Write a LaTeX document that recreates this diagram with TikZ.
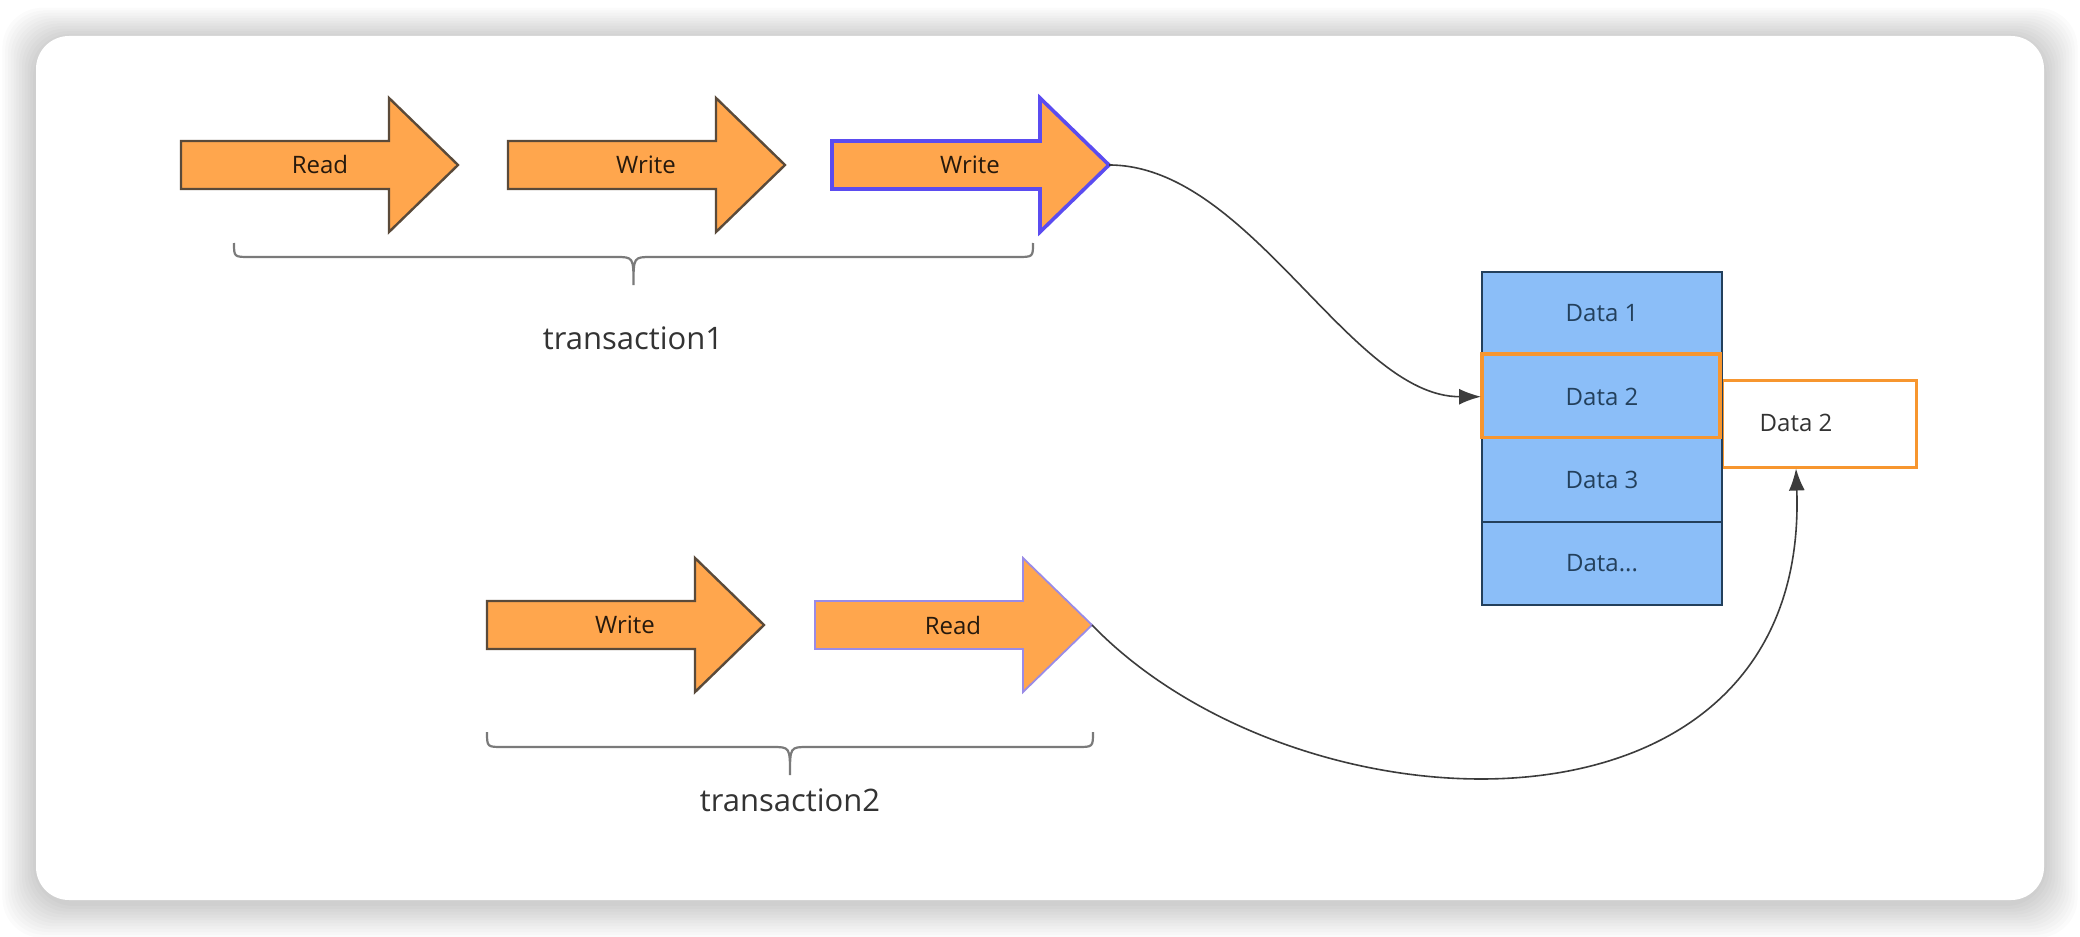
\documentclass[tikz,border=0pt]{standalone}
\usepackage{fontspec}
\setmainfont{Open Sans}
\usetikzlibrary{arrows.meta,calc}

\definecolor{opfill}{HTML}{FFA64D}
\definecolor{opedge}{HTML}{5A4A3A}
\definecolor{selblue}{HTML}{5B4CF0}
\definecolor{lavender}{HTML}{9A8BE6}
\definecolor{cellfill}{HTML}{8BBEF8}
\definecolor{celledge}{HTML}{23405C}
\definecolor{hiorange}{HTML}{F7962F}
\definecolor{linegray}{HTML}{3C3C3C}
\definecolor{bracegray}{HTML}{7A7A7A}

% block arrow: #1 = left x, #2 = centre y (pixel units)
\newcommand\opshape[2]{%
  (#1,#2-24) -- ++(208,0) -- ++(0,-43) -- (#1+277,#2) -- (#1+208,#2+67)
  -- ++(0,-43) -- (#1,#2+24) -- cycle}

% horizontal curly brace: #1 left x, #2 right x, #3 top y, #4 line y, #5 tip y
\newcommand\bracepath[5]{%
  (#1,#3) .. controls (#1,#4) .. (#1+16,#4) -- ({(#1+#2)/2-18},#4)
  .. controls ({(#1+#2)/2},#4) .. ({(#1+#2)/2},#5)
  .. controls ({(#1+#2)/2},#4) .. ({(#1+#2)/2+18},#4) -- (#2-16,#4)
  .. controls (#2,#4) .. (#2,#3)}

\tikzset{
  opbody/.style={fill=opfill, draw=opedge, line width=1.2pt, line join=miter},
  oplabel/.style={font=\fontsize{12}{14}\selectfont, text=black!80!brown},
  cell/.style={draw=celledge, fill=cellfill, line width=1pt, minimum width=120pt,
    minimum height=41.6pt, inner sep=0pt, font=\fontsize{12}{14}\selectfont,
    text=celledge},
  translabel/.style={font=\fontsize{15.5}{18}\selectfont, text=black!80},
  conn/.style={draw=linegray, line width=0.8pt,
    -{Latex[length=11pt,width=8pt]}},
  bracestyle/.style={draw=bracegray, line width=1.1pt}
}

\begin{document}
\begin{tikzpicture}[x=0.5pt,y=-0.5pt]
\useasboundingbox (0,0) rectangle (2080,936);

% page and card with soft shadow
\fill[white] (0,0) rectangle (2080,936);
\foreach \g in {1,...,12}{
  \fill[black, opacity=0.016, rounded corners=20pt]
    (36-\g*2.8,36-\g*2.6+3) rectangle (2044+\g*2.8,900+\g*2.9+3);
}
\fill[white, rounded corners=16.5pt] (36,36) rectangle (2044,900);

% transaction 1
\path[opbody] \opshape{181}{165};
\node[oplabel] (t1read) at (320,165) {Read};
\path[opbody] \opshape{508}{165};
\node[oplabel] (t1write) at (646,165) {Write};
\path[opbody, draw=selblue, line width=1.8pt] \opshape{832}{165};
\node[oplabel] (t1write2) at (970,165) {Write};
\coordinate (w2tip) at (1109,165);

\draw[bracestyle] \bracepath{234}{1033}{243}{257}{285};
\node[translabel] (tx1) at (633,338) {transaction1};

% transaction 2
\path[opbody] \opshape{487}{625};
\node[oplabel] (t2write) at (625,625) {Write};
\path[opbody, draw=lavender, line width=0.9pt] \opshape{815}{625};
\node[oplabel] (t2read) at (953,625) {Read};
\coordinate (r2tip) at (1092,625);

\draw[bracestyle] \bracepath{487}{1093}{732}{747}{775};
\node[translabel] (tx2) at (790,800) {transaction2};

% copy of the second record
\node[draw=hiorange, fill=white, line width=1.5pt, minimum width=97pt,
      minimum height=43.5pt, inner sep=0pt] (copy) at (1819,423.5) {};
\node[font=\fontsize{12}{14}\selectfont, text=black!80] (copytext) at (1796,423) {Data 2};

% stored records
\node[cell] (d1) at (1602,313.5) {Data 1};
\node[cell] (d2) at (1602,396.7) {Data 2};
\node[cell] (d3) at (1602,480) {Data 3};
\node[cell] (d4) at (1602,563.3) {Data...};
\node[draw=hiorange, line width=1.6pt, minimum width=119pt, minimum height=41.6pt,
      inner sep=0pt] (d2mark) at (1601,395.5) {};

% connectors
\draw[conn] (w2tip) .. controls (1250,165) and (1350,396.7) .. (d2.west);
\draw[conn] (r2tip) .. controls (1300,840) and (1810,860) .. (copytext |- copy.south);
\end{tikzpicture}
\end{document}
